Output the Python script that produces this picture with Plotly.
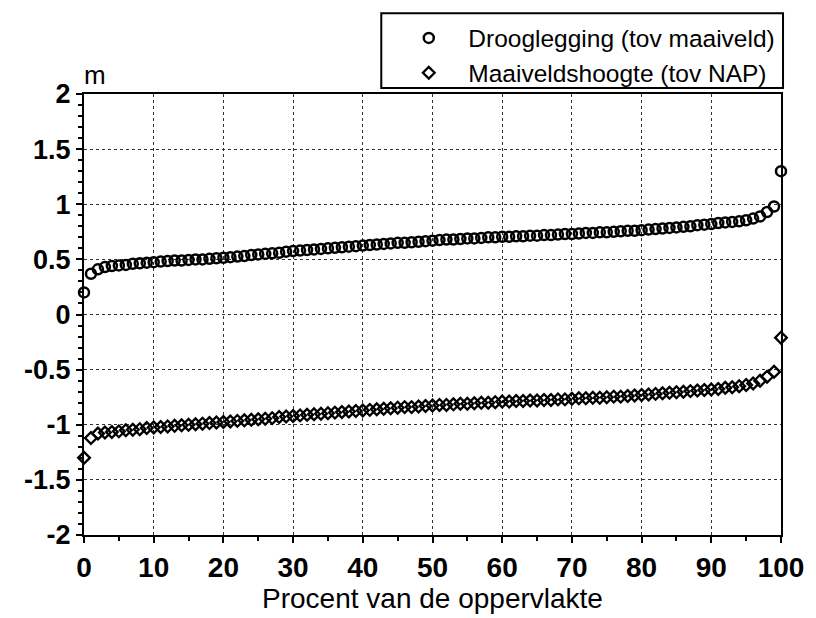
import plotly.graph_objects as go

# Data
procent = list(range(101))

drooglegging = [
    0.20, 0.37, 0.41, 0.43, 0.44, 0.445, 0.45, 0.46, 0.465, 0.47,
    0.475, 0.48, 0.485, 0.49, 0.49, 0.495, 0.50, 0.50, 0.505, 0.51,
    0.515, 0.52, 0.525, 0.53, 0.54, 0.545, 0.55, 0.555, 0.56, 0.57,
    0.575, 0.58, 0.585, 0.59, 0.595, 0.60, 0.605, 0.61, 0.615, 0.62,
    0.625, 0.63, 0.635, 0.64, 0.645, 0.65, 0.65, 0.655, 0.66, 0.665,
    0.67, 0.675, 0.68, 0.68, 0.685, 0.69, 0.69, 0.695, 0.70, 0.70,
    0.705, 0.705, 0.71, 0.71, 0.715, 0.715, 0.72, 0.72, 0.725, 0.73,
    0.73, 0.735, 0.74, 0.74, 0.745, 0.745, 0.75, 0.755, 0.76, 0.76,
    0.765, 0.77, 0.775, 0.78, 0.785, 0.79, 0.795, 0.80, 0.81, 0.815,
    0.82, 0.83, 0.835, 0.84, 0.845, 0.855, 0.87, 0.89, 0.93, 0.98,
    1.30,
]

maaiveldshoogte = [
    -1.30, -1.12, -1.08, -1.07, -1.065, -1.06, -1.05, -1.045, -1.04, -1.03,
    -1.025, -1.02, -1.015, -1.01, -1.005, -1.00, -0.995, -0.99, -0.985, -0.98,
    -0.975, -0.97, -0.965, -0.96, -0.955, -0.95, -0.945, -0.94, -0.93, -0.925,
    -0.92, -0.915, -0.91, -0.905, -0.90, -0.895, -0.89, -0.885, -0.88, -0.875,
    -0.87, -0.865, -0.86, -0.855, -0.85, -0.845, -0.84, -0.84, -0.835, -0.83,
    -0.825, -0.82, -0.82, -0.815, -0.81, -0.81, -0.805, -0.80, -0.80, -0.795,
    -0.79, -0.79, -0.785, -0.785, -0.78, -0.78, -0.775, -0.775, -0.77, -0.77,
    -0.765, -0.76, -0.76, -0.755, -0.755, -0.75, -0.745, -0.745, -0.74, -0.735,
    -0.73, -0.725, -0.72, -0.715, -0.71, -0.705, -0.70, -0.695, -0.69, -0.685,
    -0.68, -0.675, -0.665, -0.66, -0.65, -0.64, -0.625, -0.60, -0.565, -0.52,
    -0.21,
]

x_tickvals = [0, 10, 20, 30, 40, 50, 60, 70, 80, 90, 100]
x_ticktext = ["0", "10", "20", "30", "40", "50", "60", "70", "80", "90", "100"]
y_tickvals = [2, 1.5, 1, 0.5, 0, -0.5, -1, -1.5, -2]
y_ticktext = ["2", "1.5", "1", "0.5", "0", "-0.5", "-1", "-1.5", "-2"]

FONT = "Liberation Sans"

fig = go.Figure()
fig.add_trace(go.Scatter(
    x=procent, y=drooglegging, mode="markers",
    name="Drooglegging (tov maaiveld)",
    marker=dict(symbol="circle-open", size=10, color="black", line=dict(width=2.5, color="black")),
    cliponaxis=False,
))
fig.add_trace(go.Scatter(
    x=procent, y=maaiveldshoogte, mode="markers",
    name="Maaiveldshoogte (tov NAP)",
    marker=dict(symbol="diamond-open", size=9, color="black", line=dict(width=2.3, color="black")),
    cliponaxis=False,
))

axis_common = dict(
    showline=True, linewidth=2, linecolor="black", mirror=True,
    ticks="outside", ticklen=6, tickwidth=2, tickcolor="black",
    showgrid=True, gridcolor="#333", gridwidth=1, griddash="dot",
    zeroline=False,
)

fig.update_xaxes(
    range=[0, 100], tickmode="array", tickvals=x_tickvals, ticktext=x_ticktext,
    tickfont=dict(family=FONT, size=28, color="black", weight="bold"),
    title=dict(text="Procent van de oppervlakte", font=dict(family=FONT, size=28, color="black"), standoff=4),
    minor=dict(dtick=5, ticks="outside", ticklen=4, tickwidth=2, tickcolor="black", showgrid=False),
    **axis_common,
)
fig.update_yaxes(
    range=[-2, 2], tickmode="array", tickvals=y_tickvals, ticktext=y_ticktext,
    tickfont=dict(family=FONT, size=27, color="black", weight="bold"),
    minor=dict(dtick=0.1, ticks="outside", ticklen=4, tickwidth=2, tickcolor="black", showgrid=False),
    **axis_common,
)

fig.add_shape(type="rect", xref="paper", yref="paper",
              x0=0.4265, x1=1.0029, y0=1.0136, y1=1.1833,
              line=dict(color="black", width=2), fillcolor="rgba(0,0,0,0)")

fig.add_annotation(text="m", xref="paper", yref="paper", x=0.016, y=1.043,
                   showarrow=False, font=dict(family=FONT, size=26, color="black"),
                   xanchor="center", yanchor="middle")

fig.update_layout(
    width=816, height=618,
    margin=dict(l=84, r=31, t=94, b=82),
    plot_bgcolor="white", paper_bgcolor="white",
    font=dict(family=FONT, color="black"),
    legend=dict(x=0.438, y=1.178, xanchor="left", yanchor="top",
                bgcolor="rgba(0,0,0,0)", borderwidth=0,
                font=dict(family=FONT, size=24.5, color="black"),
                tracegroupgap=0, itemwidth=69),
    showlegend=True,
)

fig.write_html("out.html")
